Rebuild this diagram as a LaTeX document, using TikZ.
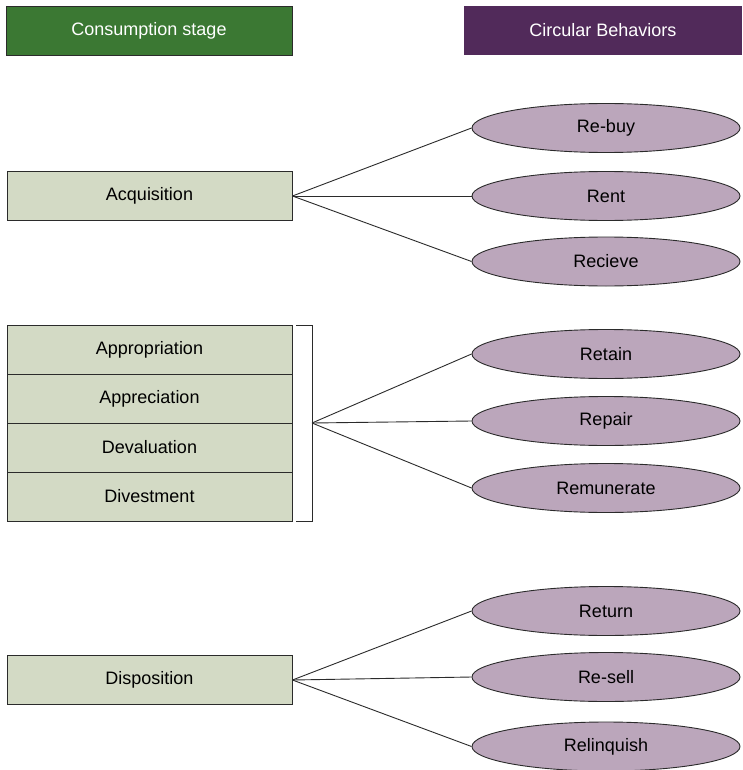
\documentclass[tikz,border=0pt]{standalone}
\usepackage{fontspec}
\setmainfont{Liberation Sans}
\usetikzlibrary{shapes.geometric}
\definecolor{hdrgreen}{HTML}{3B7833}
\definecolor{hdrpurple}{HTML}{512A5A}
\definecolor{stagefill}{HTML}{D3DAC5}
\definecolor{behavfill}{HTML}{BBA6BB}
\definecolor{edge}{HTML}{2B2B2B}
\tikzset{
  header/.style={rectangle, minimum width=286pt, minimum height=49pt, inner sep=0pt,
    text=white, font=\fontsize{18}{20}\selectfont},
  stagebox/.style={rectangle, draw=edge, line width=0.9pt, fill=stagefill,
    minimum width=285pt, minimum height=49pt, inner sep=0pt,
    font=\fontsize{18}{20}\selectfont},
  behav/.style={ellipse, draw=edge, line width=0.9pt, fill=behavfill,
    minimum width=268pt, minimum height=49pt, inner sep=0pt,
    font=\fontsize{18}{20}\selectfont},
  link/.style={draw=edge, line width=0.9pt}
}
\begin{document}
\begin{tikzpicture}[x=1pt,y=-1pt]
\useasboundingbox (0,0) rectangle (742,770);
\fill[white] (0,0) rectangle (742,770);

% column headers
\node[header, fill=hdrgreen, draw=edge, line width=0.8pt] (hstage) at (149,30.5) {Consumption stage};
\node[header, fill=hdrpurple, minimum width=278pt] (hbehav) at (603,30.5) {Circular Behaviors};

% consumption stages
\node[stagebox] (acq) at (149.5,196) {Acquisition};
\node[stagebox] (appr) at (149.5,349.5) {Appropriation};
\node[stagebox] (appre) at (149.5,398.5) {Appreciation};
\node[stagebox] (deval) at (149.5,447.5) {Devaluation};
\node[stagebox] (divest) at (149.5,496.5) {Divestment};
\node[stagebox] (disp) at (149.5,680) {Disposition};

% bracket grouping the middle stages
\coordinate (btop) at (296,325);
\coordinate (bbot) at (296,521);
\coordinate (bapex) at (312,423);
\draw[edge, line width=0.9pt] (btop) -- (312,325) -- (312,521) -- (bbot);

% circular behaviours
\node[behav] (rebuy) at (606,128) {Re-buy};
\node[behav] (rent) at (606,196) {Rent};
\node[behav] (recieve) at (606,261.5) {Recieve};
\node[behav] (retain) at (606,354) {Retain};
\node[behav] (repair) at (606,421) {Repair};
\node[behav] (remun) at (606,488) {Remunerate};
\node[behav] (return) at (606,611) {Return};
\node[behav] (resell) at (606,677) {Re-sell};
\node[behav] (relinq) at (606,746.5) {Relinquish};

% connectors
\draw[link] (acq.east) -- (rebuy.west);
\draw[link] (acq.east) -- (rent.west);
\draw[link] (acq.east) -- (recieve.west);
\draw[link] (bapex) -- (retain.west);
\draw[link] (bapex) -- (repair.west);
\draw[link] (bapex) -- (remun.west);
\draw[link] (disp.east) -- (return.west);
\draw[link] (disp.east) -- (resell.west);
\draw[link] (disp.east) -- (relinq.west);
\end{tikzpicture}
\end{document}
